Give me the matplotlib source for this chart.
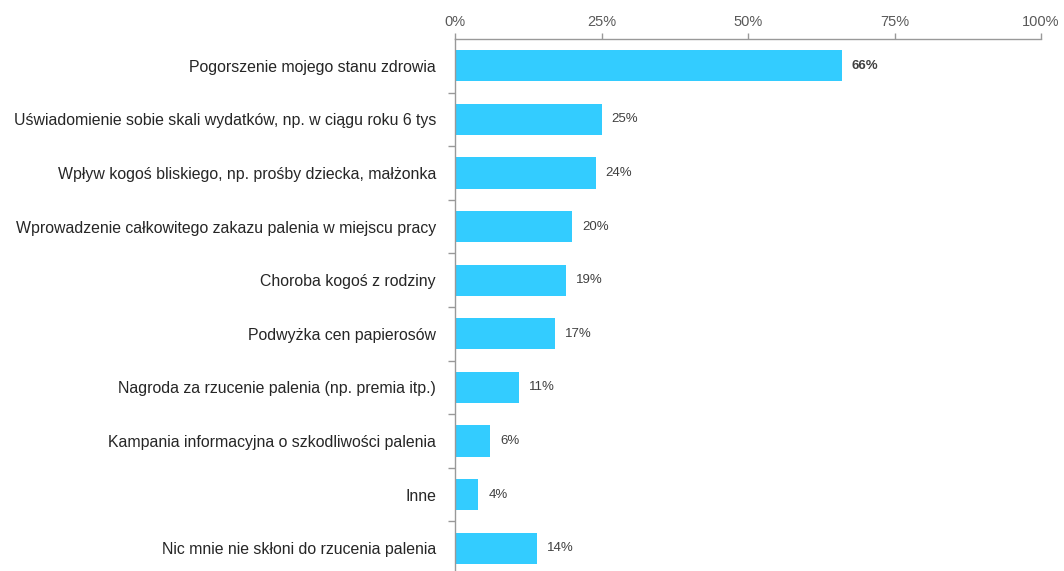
import matplotlib.pyplot as plt
from matplotlib.ticker import FixedLocator

plt.rcParams['font.family'] = ['Liberation Sans', 'DejaVu Sans']

categories = [
    'Pogorszenie mojego stanu zdrowia',
    'Uświadomienie sobie skali wydatków, np. w ciągu roku 6 tys',
    'Wpływ kogoś bliskiego, np. prośby dziecka, małżonka',
    'Wprowadzenie całkowitego zakazu palenia w miejscu pracy',
    'Choroba kogoś z rodziny',
    'Podwyżka cen papierosów',
    'Nagroda za rzucenie palenia (np. premia itp.)',
    'Kampania informacyjna o szkodliwości palenia',
    'Inne',
    'Nic mnie nie skłoni do rzucenia palenia',
]
values = [66, 25, 24, 20, 19, 17, 11, 6, 4, 14]
x_ticks = [0, 25, 50, 75, 100]

fig = plt.figure(figsize=(10.64, 5.71), dpi=100)
ax = fig.add_axes([455 / 1064, -4 / 571, 586 / 1064, 536 / 571])

ypos = list(range(len(categories)))
ax.barh(ypos, values, height=0.58, color='#33ccff', edgecolor='none')
ax.set_ylim(len(categories) - 0.5, -0.5)
ax.set_xlim(0, 100)

for i, v in enumerate(values):
    ax.text(v + 1.7, i, f'{v}%', va='center', ha='left', fontsize=9.5,
            color='#404040', fontweight='bold' if i == 0 else 'normal')

ax.xaxis.tick_top()
ax.set_xticks(x_ticks)
ax.set_xticklabels([f'{t}%' for t in x_ticks])
ax.tick_params(axis='x', length=4, color='#999999', labelcolor='#595959',
               labelsize=10.5, pad=3, width=1)

ax.set_yticks(ypos)
ax.set_yticklabels(categories)
ax.tick_params(axis='y', length=0, labelcolor='#262626', labelsize=11.4, pad=13.7)
ax.yaxis.set_minor_locator(FixedLocator([i + 0.5 for i in range(len(categories) - 1)]))
ax.tick_params(axis='y', which='minor', length=5, color='#999999', width=1)

for side in ['right', 'bottom']:
    ax.spines[side].set_visible(False)
for side in ['top', 'left']:
    ax.spines[side].set_color('#999999')
    ax.spines[side].set_linewidth(1)

fig.savefig('out.png', dpi=100)
